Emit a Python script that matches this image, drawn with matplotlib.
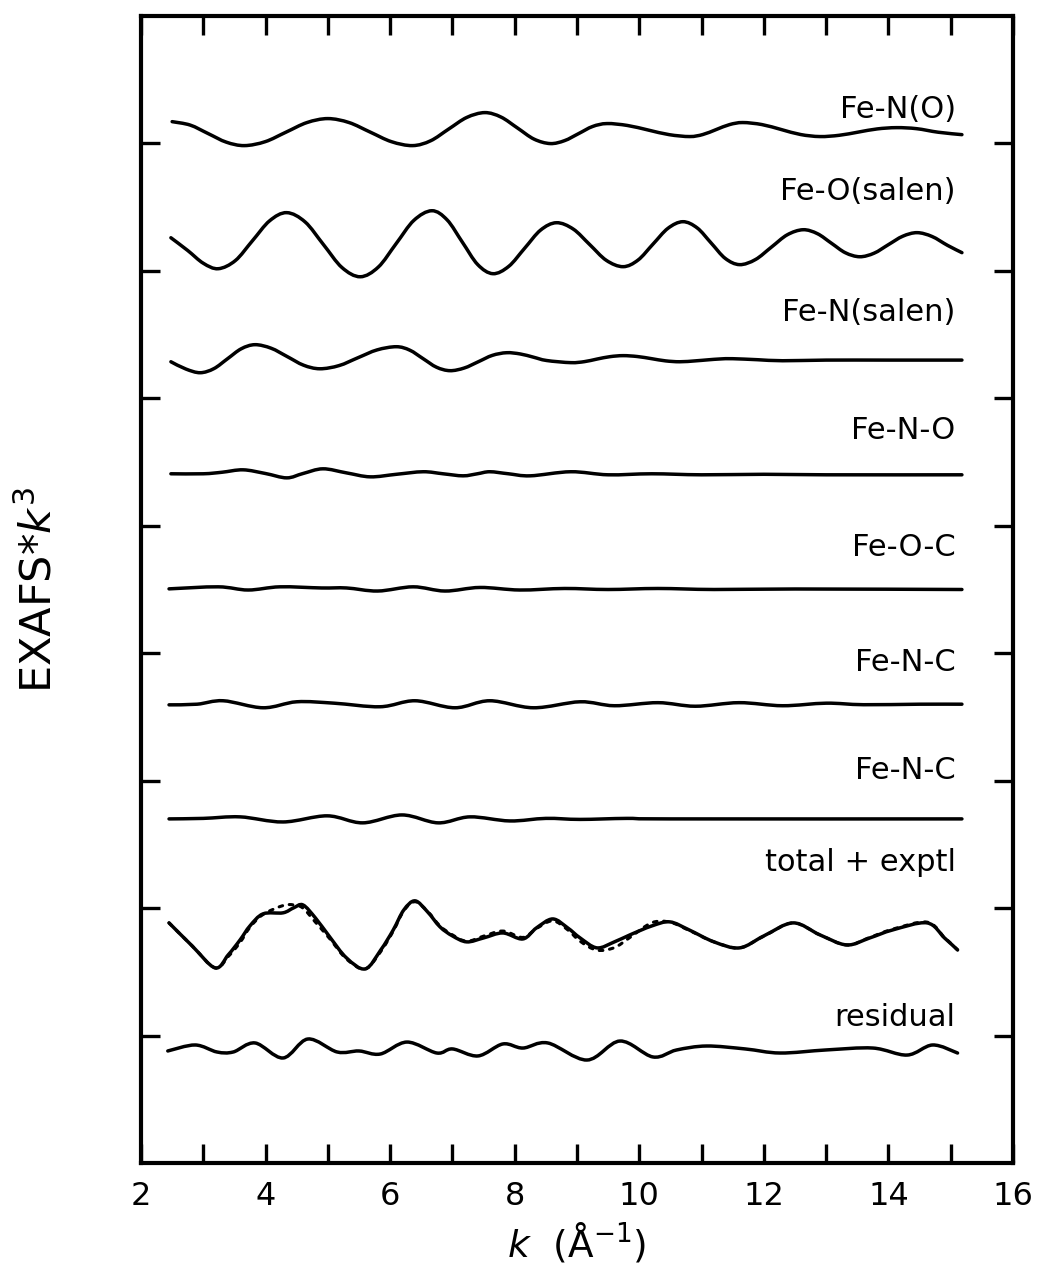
import matplotlib
matplotlib.use("Agg")
import matplotlib.pyplot as plt
from matplotlib.ticker import FixedLocator, FuncFormatter
from matplotlib.path import Path
from matplotlib.patches import PathPatch

plt.rcParams['font.family'] = ['DejaVu Sans']
plt.rcParams['mathtext.fontset'] = 'dejavusans'

# ---------------- data ----------------
labels = ["Fe-N(O)", "Fe-O(salen)", "Fe-N(salen)", "Fe-N-O", "Fe-O-C",
          "Fe-N-C", "Fe-N-C", "total + exptl", "residual"]
offsets = [8.1, 7.2, 6.3, 5.4, 4.5, 3.6, 2.7, 1.8, 0.9]
label_y = [8.27, 7.62, 6.67, 5.75, 4.83, 3.93, 3.08, 2.36, 1.14]

feno_k = [2.5, 2.79, 3.08, 3.37, 3.66, 3.995, 4.33, 4.665, 5.0, 5.34, 5.68, 6.02, 6.36,
          6.65, 6.94, 7.23, 7.52, 7.78, 8.045, 8.31, 8.57, 8.8, 9.025, 9.25, 9.48,
          9.81, 10.145, 10.48, 10.81, 11.02, 11.235, 11.45, 11.66, 11.97, 12.28, 12.59,
          12.9, 13.21, 13.515, 13.82, 14.13, 14.45, 14.8, 15.18]
feno_v = [0.071, 0.044, -0.023, -0.090, -0.117, -0.086, -0.011, 0.064, 0.095, 0.064,
          -0.011, -0.086, -0.117, -0.079, 0.013, 0.104, 0.142, 0.107, 0.021, -0.066,
          -0.101, -0.078, -0.023, 0.033, 0.056, 0.041, 0.005, -0.031, -0.046, -0.030,
          0.009, 0.048, 0.064, 0.048, 0.009, -0.030, -0.046, -0.036, -0.011, 0.014,
          0.024, 0.016, -0.012, -0.031]

feos_k = [2.48, 2.75, 3.0, 3.24, 3.515, 3.79, 4.065, 4.34, 4.635, 4.93, 5.225, 5.52,
          5.81, 6.095, 6.38, 6.67, 6.915, 7.16, 7.405, 7.65, 7.905, 8.16, 8.415, 8.67,
          8.94, 9.205, 9.47, 9.74, 9.98, 10.22, 10.46, 10.7, 10.93, 11.155, 11.38, 11.61,
          11.865, 12.12, 12.375, 12.63, 12.86, 13.085, 13.31, 13.54, 13.77, 14.0, 14.23,
          14.46, 14.7, 14.95, 15.18]
feos_v = [0.060, -0.040, -0.140, -0.183, -0.119, 0.037, 0.193, 0.257, 0.184, 0.006,
          -0.173, -0.246, -0.170, 0.013, 0.196, 0.272, 0.200, 0.025, -0.150, -0.222,
          -0.164, -0.022, 0.120, 0.178, 0.128, 0.006, -0.117, -0.167, -0.115, 0.010,
          0.134, 0.186, 0.137, 0.018, -0.102, -0.151, -0.111, -0.014, 0.083, 0.123,
          0.092, 0.017, -0.058, -0.089, -0.061, 0.006, 0.072, 0.100, 0.070, 0.000, -0.057]

fens_k = [2.48, 2.72, 2.95, 3.17, 3.39, 3.61, 3.83, 4.09, 4.35, 4.61, 4.87, 5.18, 5.485,
          5.79, 6.1, 6.315, 6.53, 6.745, 6.96, 7.19, 7.415, 7.64, 7.87, 8.09, 8.3, 8.51,
          8.9, 9.12, 9.32, 9.53, 9.74, 9.97, 10.2, 10.42, 10.65, 10.9, 11.1, 11.3, 11.5,
          11.9, 12.3, 13.0, 14.0, 15.18]
fens_v = [-0.013, -0.070, -0.099, -0.067, 0.011, 0.089, 0.121, 0.093, 0.027, -0.040,
          -0.068, -0.043, 0.019, 0.080, 0.105, 0.078, 0.011, -0.056, -0.083, -0.062,
          -0.013, 0.037, 0.058, 0.048, 0.023, -0.003, -0.020, -0.012, 0.008, 0.027,
          0.035, 0.028, 0.011, -0.006, -0.013, -0.006, 0.002, 0.009, 0.011, 0.003,
          -0.005, 0.000, 0.000, 0.000]

feno2_k = [2.48, 3.0, 3.3, 3.64, 4.0, 4.34, 4.6, 4.92, 5.3, 5.68, 6.1, 6.53, 6.85, 7.17,
           7.4, 7.6, 7.9, 8.25, 8.9, 9.5, 10.2, 11.0, 12.0, 13.0, 15.18]
feno2_v = [0.008, 0.008, 0.020, 0.039, 0.010, -0.024, 0.010, 0.047, 0.015, -0.016,
           0.004, 0.024, 0.008, -0.008, 0.008, 0.024, 0.008, -0.008, 0.024, 0.000,
           0.008, 0.000, 0.004, 0.000, 0.000]

feoc_k = [2.45, 3.24, 3.72, 4.23, 4.9, 5.3, 5.8, 6.37, 6.88, 7.44, 8.08, 8.8, 9.5,
          10.3, 11.2, 12.5, 15.18]
feoc_v = [0.005, 0.021, -0.004, 0.021, 0.012, 0.012, -0.012, 0.021, -0.012, 0.016,
          -0.004, 0.008, 0.000, 0.008, 0.000, 0.004, 0.000]

fenc1_k = [2.45, 2.9, 3.32, 3.96, 4.5, 5.1, 5.84, 6.4, 7.04, 7.6, 8.3, 9.05, 9.6, 10.3,
           10.9, 11.6, 12.3, 13.0, 13.6, 14.5, 15.18]
fenc1_v = [-0.005, 0.000, 0.027, -0.028, 0.019, 0.008, -0.020, 0.027, -0.028, 0.027,
           -0.028, 0.019, -0.012, 0.012, -0.016, 0.012, -0.012, 0.008, -0.004, 0.000, 0.000]

fenc2_k = [2.45, 3.0, 3.59, 4.28, 4.99, 5.56, 6.19, 6.77, 7.28, 7.92, 8.5, 9.05, 9.8,
           10.5, 15.18]
fenc2_v = [0.000, 0.004, 0.016, -0.024, 0.024, -0.031, 0.031, -0.031, 0.016, -0.016,
           0.004, -0.004, 0.004, 0.000, 0.000]

total_k = [2.45, 2.82, 3.19, 3.4, 3.59, 3.75, 3.96, 4.28, 4.45, 4.6, 4.8, 5.03, 5.3, 5.6,
           5.85, 6.05, 6.22, 6.4, 6.6, 6.8, 7.0, 7.23, 7.5, 7.81, 8.13, 8.35, 8.61, 8.85,
           9.05, 9.32, 9.6, 9.85, 10.2, 10.49, 10.8, 11.2, 11.61, 12.0, 12.47, 12.9,
           13.33, 13.7, 14.07, 14.62, 14.9, 15.11]
total_v = [0.084, -0.096, -0.269, -0.167, -0.050, 0.061, 0.155, 0.163, 0.202, 0.225,
           0.123, -0.026, -0.191, -0.277, -0.128, 0.029, 0.186, 0.257, 0.171, 0.053,
           -0.018, -0.065, -0.034, 0.005, -0.042, 0.045, 0.115, 0.045, -0.034, -0.112,
           -0.065, -0.010, 0.060, 0.092, 0.029, -0.065, -0.112, -0.018, 0.084, -0.010,
           -0.089, -0.034, 0.029, 0.084, -0.034, -0.128]
exptl_v = [0.084, -0.096, -0.269, -0.180, -0.070, 0.050, 0.150, 0.220, 0.225, 0.200,
           0.090, -0.040, -0.200, -0.277, -0.140, 0.020, 0.180, 0.250, 0.175, 0.060,
           -0.010, -0.060, -0.020, 0.020, -0.030, 0.040, 0.100, 0.030, -0.060, -0.130,
           -0.110, -0.030, 0.085, 0.090, 0.025, -0.065, -0.112, -0.020, 0.084, -0.010,
           -0.089, -0.030, 0.035, 0.090, -0.030, -0.128]

resid_k = [2.43, 2.87, 3.22, 3.48, 3.83, 4.28, 4.68, 5.15, 5.5, 5.84, 6.27, 6.75, 7.0,
           7.41, 7.81, 8.13, 8.53, 9.16, 9.69, 10.22, 10.6, 11.08, 11.7, 12.26, 13.0,
           13.75, 14.3, 14.71, 15.11]
resid_v = [-0.021, 0.026, -0.029, -0.029, 0.042, -0.076, 0.073, -0.029, -0.021, -0.045,
           0.049, -0.037, -0.005, -0.060, 0.034, 0.002, 0.042, -0.092, 0.057, -0.068,
           -0.013, 0.018, -0.005, -0.037, -0.013, 0.002, -0.053, 0.026, -0.037]

curves_k = [feno_k, feos_k, fens_k, feno2_k, feoc_k, fenc1_k, fenc2_k, total_k, resid_k]
curves_v = [feno_v, feos_v, fens_v, feno2_v, feoc_v, fenc1_v, fenc2_v, total_v, resid_v]

x_ticks = list(range(2, 17))
y_ticks = [1, 2, 3, 4, 5, 6, 7, 8]


def smooth_path(k, y):
    """Smooth (Catmull-Rom style Bezier) path passing through every read point."""
    n = len(k)
    verts = [(k[0], y[0])]
    codes = [Path.MOVETO]
    for i in range(n - 1):
        a = i - 1 if i > 0 else i
        d = i + 2 if i + 2 < n else i + 1
        c1 = (k[i] + (k[i + 1] - k[a]) / 6.0, y[i] + (y[i + 1] - y[a]) / 6.0)
        c2 = (k[i + 1] - (k[d] - k[i]) / 6.0, y[i + 1] - (y[d] - y[i]) / 6.0)
        verts += [c1, c2, (k[i + 1], y[i + 1])]
        codes += [Path.CURVE4] * 3
    return Path(verts, codes)


# ---------------- plot ----------------
fig = plt.figure(figsize=(10.42, 12.74), dpi=100)
ax = fig.add_axes([141 / 1042, 111 / 1274, 872 / 1042, 1147 / 1274])
ax.set_xlim(2, 16)
ax.set_ylim(0, 9)

lw = 2.5
for kk, vv, off in zip(curves_k, curves_v, offsets):
    p = smooth_path(kk, [off + v for v in vv])
    ax.add_patch(PathPatch(p, fill=False, edgecolor='black', lw=lw,
                           joinstyle='round', capstyle='round'))

# experimental (dotted)
pe = smooth_path(total_k, [offsets[7] + v for v in exptl_v])
ax.add_patch(PathPatch(pe, fill=False, edgecolor='black', lw=2.2,
                       linestyle=(0, (1.2, 2.2)), capstyle='round'))

for lab, ly in zip(labels, label_y):
    ax.text(15.08, ly, lab, ha='right', va='center', fontsize=22, color='black')

ax.xaxis.set_major_locator(FixedLocator(x_ticks))
ax.xaxis.set_major_formatter(FuncFormatter(
    lambda v, p: f"{int(round(v))}" if int(round(v)) % 2 == 0 else ""))
ax.yaxis.set_major_locator(FixedLocator(y_ticks))
ax.set_yticklabels([])
ax.tick_params(axis='both', which='major', direction='in', length=14, width=2.4,
               top=True, right=True, labelsize=23, pad=13, color='black')
for s in ax.spines.values():
    s.set_linewidth(3.0)
    s.set_color('black')

ax.set_xlabel(r"$k$  (Å$^{\mathsf{-}1}$)", fontsize=27, labelpad=6)
ax.set_ylabel(r"EXAFS*$k^3$", fontsize=31, labelpad=45)

fig.savefig("out.png", dpi=100, facecolor='white')
